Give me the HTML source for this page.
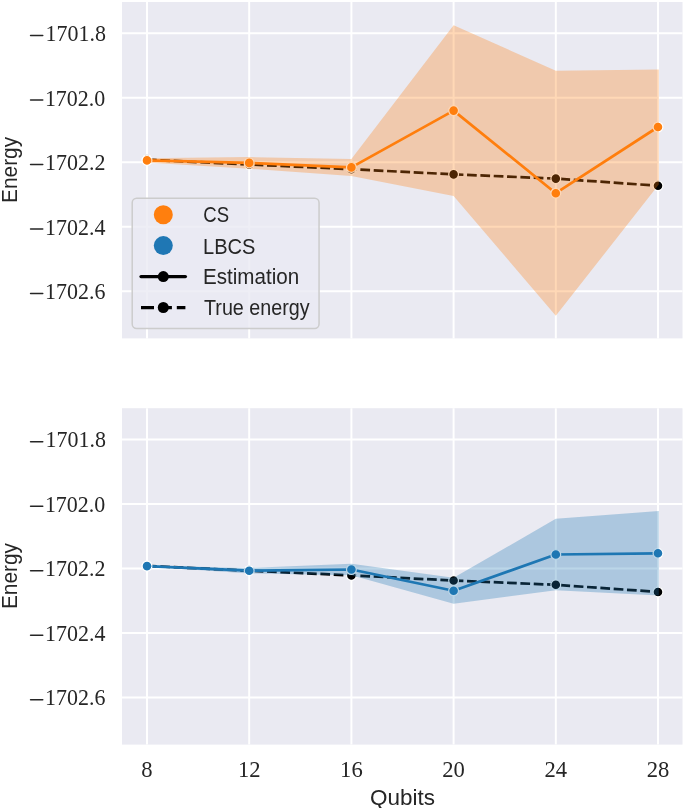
<!DOCTYPE html>
<html><head><meta charset="utf-8"><title>Energy vs Qubits</title><style>
html,body{margin:0;padding:0;background:#fff;width:685px;height:808px;overflow:hidden}
svg{display:block;will-change:transform}
.tk{font-family:"Liberation Serif",serif;font-size:22.6px;fill:#262626}
.lab{font-family:"Liberation Sans",sans-serif;font-size:22.6px;fill:#262626}
.lg{font-family:"Liberation Sans",sans-serif;font-size:21.4px;fill:#262626}
</style></head><body>
<svg width="685" height="808" viewBox="0 0 685 808">
<clipPath id="c0"><rect x="122" y="2" width="560.5" height="336.4"/></clipPath>
<rect x="122" y="2" width="560.5" height="336.4" fill="#eaeaf2"/>
<path d="M147 2V338.4M249.2 2V338.4M351.4 2V338.4M453.6 2V338.4M555.8 2V338.4M658 2V338.4M122 33.3H682.5M122 97.8H682.5M122 162.3H682.5M122 226.8H682.5M122 291.3H682.5" stroke="#fff" stroke-width="1.95" fill="none"/>
<g clip-path="url(#c0)">
<polyline points="147,159.7 249.2,164.5 351.4,169.2 453.6,174.35 555.8,178.6 658,185.75" fill="none" stroke="#000" stroke-width="2.7" stroke-dasharray="9.71 3.64" stroke-linejoin="round"/>
<circle cx="147" cy="159.7" r="4.9" fill="#000" stroke="#fff" stroke-width="1.2"/>
<circle cx="249.2" cy="164.5" r="4.9" fill="#000" stroke="#fff" stroke-width="1.2"/>
<circle cx="351.4" cy="169.2" r="4.9" fill="#000" stroke="#fff" stroke-width="1.2"/>
<circle cx="453.6" cy="174.35" r="4.9" fill="#000" stroke="#fff" stroke-width="1.2"/>
<circle cx="555.8" cy="178.6" r="4.9" fill="#000" stroke="#fff" stroke-width="1.2"/>
<circle cx="658" cy="185.75" r="4.9" fill="#000" stroke="#fff" stroke-width="1.2"/>
<polyline points="147,160.4 249.2,162.9 351.4,167.4 453.6,110.6 555.8,193.2 658,127" fill="none" stroke="#ff7f0e" stroke-width="2.7" stroke-linejoin="round" stroke-linecap="round"/>
<circle cx="147" cy="160.4" r="4.9" fill="#ff7f0e" stroke="#fff" stroke-width="1.2"/>
<circle cx="249.2" cy="162.9" r="4.9" fill="#ff7f0e" stroke="#fff" stroke-width="1.2"/>
<circle cx="351.4" cy="167.4" r="4.9" fill="#ff7f0e" stroke="#fff" stroke-width="1.2"/>
<circle cx="453.6" cy="110.6" r="4.9" fill="#ff7f0e" stroke="#fff" stroke-width="1.2"/>
<circle cx="555.8" cy="193.2" r="4.9" fill="#ff7f0e" stroke="#fff" stroke-width="1.2"/>
<circle cx="658" cy="127" r="4.9" fill="#ff7f0e" stroke="#fff" stroke-width="1.2"/>
<polygon points="146.2,158.2 249.2,157.1 351.4,158.9 453.6,25.3 555.8,70.7 658.8,69.4 658.8,184.6 555.8,315.7 453.6,195.9 351.4,175.9 249.2,168.7 146.2,162.6" fill="#ff7f0e" fill-opacity="0.3"/>
</g>
<path d="M30.55 35.55H42.75" stroke="#262626" stroke-width="1.5" stroke-linecap="round"/>
<text x="106" y="41.2" class="tk" text-anchor="end" textLength="60.4" lengthAdjust="spacingAndGlyphs">1701.8</text>
<path d="M30.55 100.05H42.75" stroke="#262626" stroke-width="1.5" stroke-linecap="round"/>
<text x="105.3" y="105.7" class="tk" text-anchor="end" textLength="60.4" lengthAdjust="spacingAndGlyphs">1702.0</text>
<path d="M30.55 164.55H42.75" stroke="#262626" stroke-width="1.5" stroke-linecap="round"/>
<text x="105.4" y="170.2" class="tk" text-anchor="end" textLength="60.4" lengthAdjust="spacingAndGlyphs">1702.2</text>
<path d="M30.55 229.05H42.75" stroke="#262626" stroke-width="1.5" stroke-linecap="round"/>
<text x="105.4" y="234.7" class="tk" text-anchor="end" textLength="60.4" lengthAdjust="spacingAndGlyphs">1702.4</text>
<path d="M30.55 293.55H42.75" stroke="#262626" stroke-width="1.5" stroke-linecap="round"/>
<text x="105.5" y="299.2" class="tk" text-anchor="end" textLength="60.4" lengthAdjust="spacingAndGlyphs">1702.6</text>
<text class="lab" transform="translate(17.2 169.9) rotate(-90)" text-anchor="middle" textLength="66" lengthAdjust="spacingAndGlyphs">Energy</text>
<rect x="132.2" y="198.3" width="186.85" height="130.3" rx="4.5" ry="4.5" fill="#eaeaf2" fill-opacity="0.8" stroke="#cccccc" stroke-width="1.5"/>
<circle cx="163.3" cy="214.7" r="9.5" fill="#ff7f0e"/>
<circle cx="163.3" cy="245.6" r="9.5" fill="#1f77b4"/>
<path d="M141 276.6H185.4" stroke="#000" stroke-width="3.25" stroke-linecap="round"/>
<circle cx="163.3" cy="276.6" r="5.5" fill="#000"/>
<path d="M141 307.5H185.4" stroke="#000" stroke-width="3.25" stroke-dasharray="13 4.9"/>
<circle cx="163.3" cy="307.5" r="5.5" fill="#000"/>
<text x="203.3" y="222.3" class="lg" textLength="25.8" lengthAdjust="spacingAndGlyphs">CS</text>
<text x="203" y="253.5" class="lg" textLength="52.4" lengthAdjust="spacingAndGlyphs">LBCS</text>
<text x="203" y="284.3" class="lg" textLength="96.2" lengthAdjust="spacingAndGlyphs">Estimation</text>
<text x="204" y="314.9" class="lg" textLength="105.6" lengthAdjust="spacingAndGlyphs">True energy</text>
<clipPath id="c406"><rect x="122" y="408.2" width="560.5" height="336.4"/></clipPath>
<rect x="122" y="408.2" width="560.5" height="336.4" fill="#eaeaf2"/>
<path d="M147 408.2V744.6M249.2 408.2V744.6M351.4 408.2V744.6M453.6 408.2V744.6M555.8 408.2V744.6M658 408.2V744.6M122 439.5H682.5M122 504H682.5M122 568.5H682.5M122 633H682.5M122 697.5H682.5" stroke="#fff" stroke-width="1.95" fill="none"/>
<g clip-path="url(#c406)">
<polyline points="147,565.9 249.2,570.7 351.4,575.4 453.6,580.55 555.8,584.8 658,591.95" fill="none" stroke="#000" stroke-width="2.7" stroke-dasharray="9.71 3.64" stroke-linejoin="round"/>
<circle cx="147" cy="565.9" r="4.9" fill="#000" stroke="#fff" stroke-width="1.2"/>
<circle cx="249.2" cy="570.7" r="4.9" fill="#000" stroke="#fff" stroke-width="1.2"/>
<circle cx="351.4" cy="575.4" r="4.9" fill="#000" stroke="#fff" stroke-width="1.2"/>
<circle cx="453.6" cy="580.55" r="4.9" fill="#000" stroke="#fff" stroke-width="1.2"/>
<circle cx="555.8" cy="584.8" r="4.9" fill="#000" stroke="#fff" stroke-width="1.2"/>
<circle cx="658" cy="591.95" r="4.9" fill="#000" stroke="#fff" stroke-width="1.2"/>
<polyline points="147,566.1 249.2,570.7 351.4,569.5 453.6,590.8 555.8,554.5 658,553.3" fill="none" stroke="#1f77b4" stroke-width="2.7" stroke-linejoin="round" stroke-linecap="round"/>
<circle cx="147" cy="566.1" r="4.9" fill="#1f77b4" stroke="#fff" stroke-width="1.2"/>
<circle cx="249.2" cy="570.7" r="4.9" fill="#1f77b4" stroke="#fff" stroke-width="1.2"/>
<circle cx="351.4" cy="569.5" r="4.9" fill="#1f77b4" stroke="#fff" stroke-width="1.2"/>
<circle cx="453.6" cy="590.8" r="4.9" fill="#1f77b4" stroke="#fff" stroke-width="1.2"/>
<circle cx="555.8" cy="554.5" r="4.9" fill="#1f77b4" stroke="#fff" stroke-width="1.2"/>
<circle cx="658" cy="553.3" r="4.9" fill="#1f77b4" stroke="#fff" stroke-width="1.2"/>
<polygon points="146.2,565.6 249.2,567.9 351.4,563.7 453.6,577.8 555.8,518.8 658.8,511 658.8,595.6 555.8,590.2 453.6,603.8 351.4,575.3 249.2,573.5 146.2,566.6" fill="#1f77b4" fill-opacity="0.3"/>
</g>
<path d="M30.55 441.75H42.75" stroke="#262626" stroke-width="1.5" stroke-linecap="round"/>
<text x="106" y="447.4" class="tk" text-anchor="end" textLength="60.4" lengthAdjust="spacingAndGlyphs">1701.8</text>
<path d="M30.55 506.25H42.75" stroke="#262626" stroke-width="1.5" stroke-linecap="round"/>
<text x="105.3" y="511.9" class="tk" text-anchor="end" textLength="60.4" lengthAdjust="spacingAndGlyphs">1702.0</text>
<path d="M30.55 570.75H42.75" stroke="#262626" stroke-width="1.5" stroke-linecap="round"/>
<text x="105.4" y="576.4" class="tk" text-anchor="end" textLength="60.4" lengthAdjust="spacingAndGlyphs">1702.2</text>
<path d="M30.55 635.25H42.75" stroke="#262626" stroke-width="1.5" stroke-linecap="round"/>
<text x="105.4" y="640.9" class="tk" text-anchor="end" textLength="60.4" lengthAdjust="spacingAndGlyphs">1702.4</text>
<path d="M30.55 699.75H42.75" stroke="#262626" stroke-width="1.5" stroke-linecap="round"/>
<text x="105.5" y="705.4" class="tk" text-anchor="end" textLength="60.4" lengthAdjust="spacingAndGlyphs">1702.6</text>
<text class="lab" transform="translate(17.2 576.1) rotate(-90)" text-anchor="middle" textLength="66" lengthAdjust="spacingAndGlyphs">Energy</text>
<text x="147" y="777.3" class="tk" text-anchor="middle">8</text>
<text x="249.2" y="777.3" class="tk" text-anchor="middle">12</text>
<text x="351.4" y="777.3" class="tk" text-anchor="middle">16</text>
<text x="453.6" y="777.3" class="tk" text-anchor="middle">20</text>
<text x="555.8" y="777.3" class="tk" text-anchor="middle">24</text>
<text x="658" y="777.3" class="tk" text-anchor="middle">28</text>
<text x="402.55" y="804.6" class="lab" text-anchor="middle" textLength="65" lengthAdjust="spacingAndGlyphs">Qubits</text>
</svg>
</body></html>
